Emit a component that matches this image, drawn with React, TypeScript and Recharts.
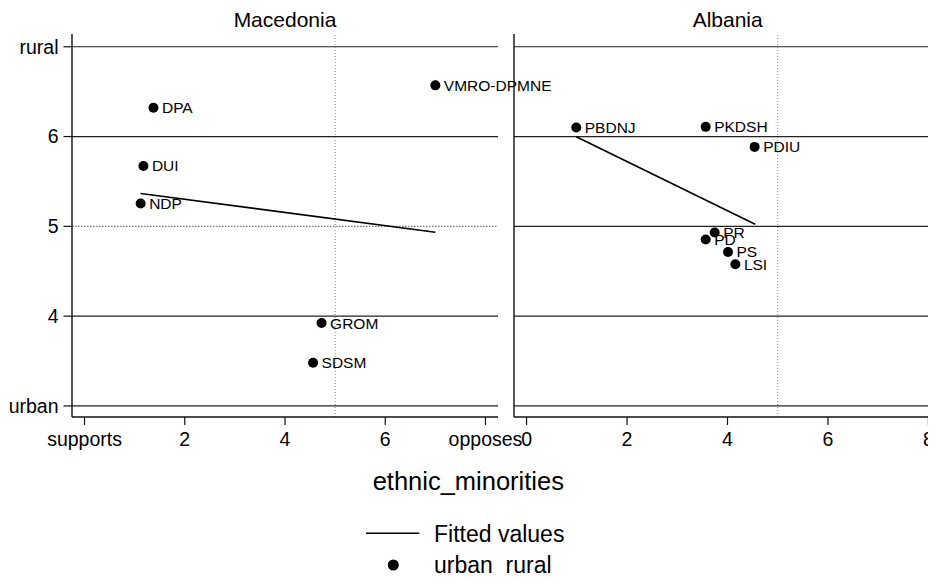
import React from 'react'
import {
  ScatterChart,
  Scatter,
  XAxis,
  YAxis,
  ReferenceLine,
} from 'recharts'

// Macedonia parties
const macParties = ['VMRO-DPMNE', 'DPA', 'DUI', 'NDP', 'GROM', 'SDSM']
const macEthnic = [7.0, 1.375, 1.175, 1.12, 4.73, 4.56]
const macUrban = [6.57, 6.32, 5.673, 5.254, 3.923, 3.482]
const macFitX = [1.12, 7.0]
const macFitY = [5.366, 4.934]

// Albania parties
const albParties = ['PBDNJ', 'PKDSH', 'PDIU', 'PR', 'PD', 'PS', 'LSI']
const albEthnic = [0.99, 3.566, 4.54, 3.745, 3.566, 4.01, 4.157]
const albUrban = [6.1, 6.108, 5.885, 4.931, 4.853, 4.715, 4.577]
const albFitX = [0.99, 4.55]
const albFitY = [5.997, 5.023]

const panelTitles = ['Macedonia', 'Albania']
const xTicks = [0, 2, 4, 6, 8]
const yTicks = [3, 4, 5, 6, 7]
const yTickNames: Record<number, string> = { 3: 'urban', 7: 'rural' }
const macXTickNames: Record<number, string> = { 0: 'supports', 8: 'opposes' }
const refX = 5
const xTitle = 'ethnic_minorities'
const legendLabels = ['Fitted values', 'urban_rural']

const X_DOMAIN: [number, number] = [-0.25, 8.25]
const Y_DOMAIN: [number, number] = [2.877, 7.142]
const FONT = '"Liberation Sans", Arial, Helvetica, sans-serif'

interface PanelProps {
  parties: string[]
  ethnic: number[]
  urban: number[]
  fitX: number[]
  fitY: number[]
  xNames?: Record<number, string>
  showYTicks: boolean
  dottedY?: number
  width: number
  left: number
}

function PointShape(props: any) {
  const { cx, cy, payload } = props
  return (
    <g>
      <circle cx={cx} cy={cy} r={5} fill="#000" />
      <text x={cx + 8.5} y={cy} dy="0.355em" fontSize={15.5} fill="#000">
        {payload.name}
      </text>
    </g>
  )
}

function Panel({
  parties,
  ethnic,
  urban,
  fitX,
  fitY,
  xNames,
  showYTicks,
  dottedY,
  width,
  left,
}: PanelProps) {
  const points = parties.map((name, i) => ({ name, x: ethnic[i], y: urban[i] }))
  const fit = fitX.map((x, i) => ({ x, y: fitY[i] }))

  return (
    <div style={{ position: 'absolute', left, top: 0 }}>
      <ScatterChart
        width={width}
        height={460}
        margin={{ top: 34, right: 2, bottom: 0, left: 0 }}
      >
        <XAxis
          xAxisId="t"
          orientation="top"
          type="number"
          dataKey="x"
          domain={X_DOMAIN}
          height={0}
          tick={false}
          tickLine={false}
          axisLine={{ stroke: '#cccccc', strokeWidth: 1.3 }}
        />
        <XAxis
          xAxisId="b"
          type="number"
          dataKey="x"
          domain={X_DOMAIN}
          ticks={xTicks}
          tickFormatter={(v: number) => (xNames && xNames[v]) || String(v)}
          height={43}
          tickSize={8}
          tickMargin={7}
          interval={0}
          tick={{ fill: '#000', fontSize: 19.5 }}
          tickLine={{ stroke: '#111', strokeWidth: 1.2 }}
          axisLine={{ stroke: '#111', strokeWidth: 1.4 }}
        />
        <YAxis
          yAxisId="l"
          type="number"
          dataKey="y"
          domain={Y_DOMAIN}
          ticks={yTicks}
          interval={0}
          tickFormatter={(v: number) => yTickNames[v] || String(v)}
          width={showYTicks ? 72 : 1}
          tickSize={8.5}
          tickMargin={5}
          tick={showYTicks ? { fill: '#000', fontSize: 19.5 } : false}
          tickLine={showYTicks ? { stroke: '#111', strokeWidth: 1.2 } : false}
          axisLine={{ stroke: '#111', strokeWidth: 1.4 }}
        />
        <YAxis
          yAxisId="r"
          orientation="right"
          type="number"
          domain={Y_DOMAIN}
          width={0}
          tick={false}
          tickLine={false}
          axisLine={{ stroke: '#111', strokeWidth: 1.4 }}
        />
        {yTicks.map((v) => (
          <ReferenceLine
            key={v}
            xAxisId="b"
            yAxisId="l"
            y={v}
            stroke={v === dottedY ? '#777' : '#222'}
            strokeWidth={1.2}
            strokeDasharray={v === dottedY ? '1.5 1.5' : undefined}
          />
        ))}
        <ReferenceLine
          xAxisId="b"
          yAxisId="l"
          x={refX}
          stroke="#888"
          strokeWidth={1}
          strokeDasharray="1 2"
        />
        <Scatter
          xAxisId="b"
          yAxisId="l"
          data={fit}
          line={{ stroke: '#000', strokeWidth: 1.6 }}
          shape={() => <g />}
          isAnimationActive={false}
        />
        <Scatter
          xAxisId="b"
          yAxisId="l"
          data={points}
          shape={PointShape}
          isAnimationActive={false}
        />
      </ScatterChart>
    </div>
  )
}

export default function App() {
  return (
    <div
      style={{
        position: 'relative',
        width: 936,
        height: 582,
        margin: -8,
        overflow: 'hidden',
        background: '#fff',
        fontFamily: FONT,
      }}
    >
      <style>{'.recharts-surface { overflow: visible; }'}</style>
      <Panel
        parties={macParties}
        ethnic={macEthnic}
        urban={macUrban}
        fitX={macFitX}
        fitY={macFitY}
        xNames={macXTickNames}
        showYTicks
        dottedY={5}
        width={500}
        left={0}
      />
      <Panel
        parties={albParties}
        ethnic={albEthnic}
        urban={albUrban}
        fitX={albFitX}
        fitY={albFitY}
        showYTicks={false}
        width={430}
        left={513}
      />
      <svg
        width={936}
        height={582}
        style={{ position: 'absolute', left: 0, top: 0, pointerEvents: 'none' }}
      >
        <text x={285} y={26.5} textAnchor="middle" fontSize={21} fill="#000">
          {panelTitles[0]}
        </text>
        <text x={727.7} y={26.5} textAnchor="middle" fontSize={21} fill="#000">
          {panelTitles[1]}
        </text>
        <text x={468.3} y={490} textAnchor="middle" fontSize={25.5} fill="#000">
          {xTitle}
        </text>
        <line x1={366} x2={419.3} y1={533.3} y2={533.3} stroke="#000" strokeWidth={1.6} />
        <text x={434} y={541.7} fontSize={23} fill="#000">
          {legendLabels[0]}
        </text>
        <circle cx={393.3} cy={565} r={5.5} fill="#000" />
        <text x={434} y={573} fontSize={23} fill="#000">
          {legendLabels[1]}
        </text>
      </svg>
    </div>
  )
}
